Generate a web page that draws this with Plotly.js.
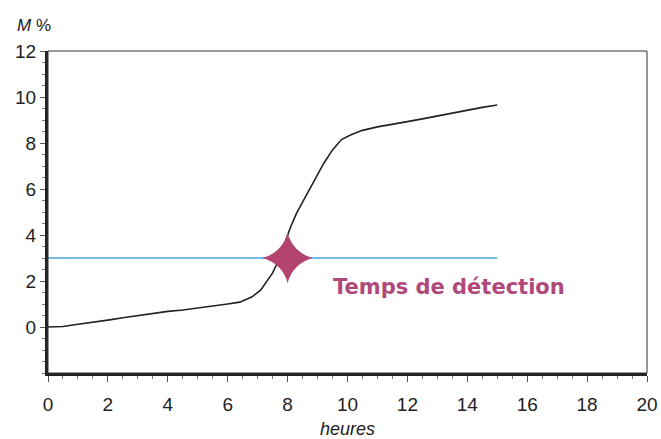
<!DOCTYPE html>
<html><head><meta charset="utf-8">
<script src="https://cdn.plot.ly/plotly-3.0.1.min.js"></script>
<style>html,body{margin:0;padding:0;background:#fff}#chart{width:661px;height:439px}</style>
</head><body><div id="chart"></div>
<script>
const hours = [0,0.5,1,1.5,2,2.5,3,3.5,4,4.5,5,5.5,6,6.4,6.8,7.1,7.3,7.5,7.7,7.9,8.1,8.3,8.6,8.9,9.2,9.5,9.8,10.1,10.5,11,11.5,12,12.5,13,13.5,14,14.5,15];
const mPercent = [0,0.02,0.12,0.2,0.3,0.4,0.5,0.6,0.68,0.74,0.82,0.9,1.0,1.08,1.3,1.6,1.95,2.35,2.9,3.6,4.35,4.95,5.65,6.35,7.1,7.7,8.15,8.35,8.55,8.7,8.8,8.93,9.05,9.18,9.32,9.43,9.55,9.65];
const thresholdX = [0, 15];
const thresholdY = [3, 3];
const detectionX = [8];
const detectionY = [3];
const detectionLabel = "Temps de détection";
const labelPos = [13.4, 1.72];

const font = {family: "Liberation Sans, Arial, sans-serif", color: "#222", size: 19};
const traces = [
  {x: hours, y: mPercent, mode: "lines", line: {color: "#222", width: 1.6}, hoverinfo: "skip"},
  {x: thresholdX, y: thresholdY, mode: "lines", line: {color: "#4aa6d6", width: 1.6}},
  {x: detectionX, y: detectionY, mode: "markers", marker: {symbol: "star-diamond", size: 36, color: "#b3436f", line: {width: 0}}}
];
const layout = {
  width: 661, height: 439,
  margin: {l: 48, r: 14, t: 51, b: 66},
  paper_bgcolor: "#fff", plot_bgcolor: "#fff",
  showlegend: false,
  font: font,
  xaxis: {range: [0, 20], dtick: 2, tick0: 0, showgrid: false, zeroline: false,
    showline: true, linecolor: "#222", linewidth: 3,
    ticks: "outside", ticklen: 6, tickcolor: "#555", tickwidth: 1,
    ticklabelstandoff: 6,
    minor: {ticks: "outside", dtick: 0.5, ticklen: 3, tickcolor: "#777", showgrid: false},
    tickfont: font,
    title: {text: "<i>heures</i>", font: {family: font.family, color: "#222", size: 18}, standoff: 9}},
  yaxis: {range: [-2, 12], dtick: 2, tick0: 0, showgrid: false, zeroline: false,
    showline: true, linecolor: "#222", linewidth: 3,
    ticks: "outside", ticklen: 5, tickcolor: "#555", tickwidth: 1,
    minor: {ticks: "outside", dtick: 0.5, ticklen: 3, tickcolor: "#777", showgrid: false},
    tickfont: font, tickvals: [0,2,4,6,8,10,12]},
  shapes: [{type: "rect", xref: "paper", yref: "paper", x0: 0, x1: 1, y0: 0, y1: 1, line: {color: "#333", width: 1}, layer: "above"}],
  annotations: [
    {x: labelPos[0], y: labelPos[1], xref: "x", yref: "y", text: "<b>" + detectionLabel + "</b>", showarrow: false,
     font: {family: "DejaVu Sans, Verdana, sans-serif", size: 21, color: "#b0497a"}},
    {xref: "paper", yref: "paper", x: -0.055, y: 1.08, xanchor: "left", yanchor: "middle", text: "<i>M</i> %", showarrow: false,
     font: {family: font.family, color: "#222", size: 17}}
  ]
};
Plotly.newPlot("chart", traces, layout, {displayModeBar: false, staticPlot: true});
</script></body></html>
